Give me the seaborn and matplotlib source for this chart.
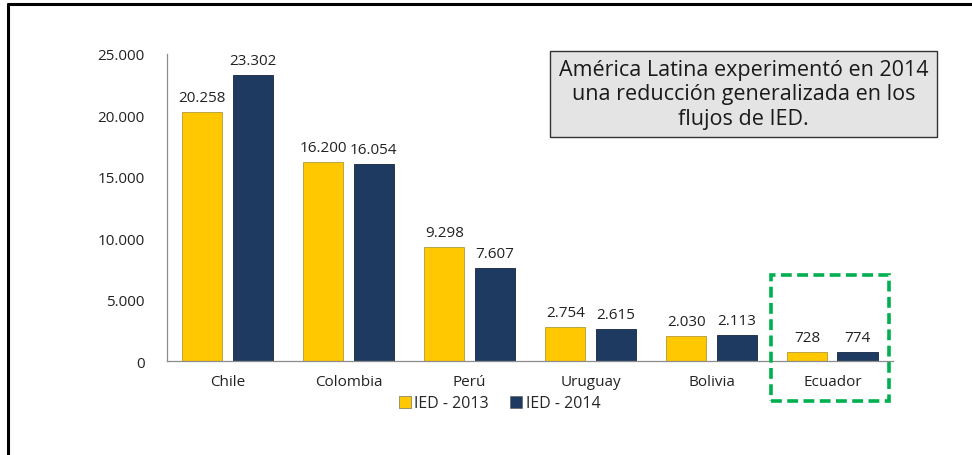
import matplotlib
matplotlib.use("Agg")
import matplotlib.pyplot as plt
from matplotlib.lines import Line2D
from matplotlib.patches import Rectangle
import pandas as pd
import seaborn as sns

paises = ["Chile", "Colombia", "Perú", "Uruguay", "Bolivia", "Ecuador"]
ied_2013 = [20258, 16200, 9298, 2754, 2030, 728]
ied_2014 = [23302, 16054, 7607, 2615, 2113, 774]
series = ["IED - 2013", "IED - 2014"]
yticks = [0, 5000, 10000, 15000, 20000, 25000]
nota = "América Latina experimentó en 2014\nuna reducción generalizada en los\nflujos de IED."

colores = {"IED - 2013": "#FFC800", "IED - 2014": "#1F3A60"}


def miles(v):
    return f"{v:,.0f}".replace(",", ".")


def main():
    df = pd.DataFrame({
        "pais": paises * 2,
        "serie": [series[0]] * len(paises) + [series[1]] * len(paises),
        "valor": ied_2013 + ied_2014,
    })

    sns.set_style("white")
    plt.rcParams["font.family"] = ["Open Sans", "DejaVu Sans"]

    fig = plt.figure(figsize=(9.72, 4.56), dpi=100)
    ax = fig.add_axes([0.1718, 0.2061, 0.7469, 0.6733])

    sns.barplot(data=df, x="pais", y="valor", hue="serie", palette=colores,
                saturation=1, width=0.83, gap=0.2, edgecolor="#b09a3a",
                linewidth=0.6, ax=ax, legend=False)
    for p in ax.containers[1]:
        p.set_edgecolor("#142640")

    # etiquetas de valores
    for cont in ax.containers:
        ax.bar_label(cont, labels=[miles(v) for v in cont.datavalues],
                     padding=5, fontsize=11, color="#222222")

    ax.set_ylim(0, 25000)
    ax.set_yticks(yticks)
    ax.set_yticklabels([miles(v) for v in yticks], fontsize=11, color="#222222")
    ax.tick_params(axis="y", length=0, pad=16)
    ax.tick_params(axis="x", length=0, pad=9, labelsize=11, labelcolor="#222222")
    ax.set_xlabel("")
    ax.set_ylabel("")
    for s in ["top", "right"]:
        ax.spines[s].set_visible(False)
    for s in ["left", "bottom"]:
        ax.spines[s].set_color("#8c8c8c")
        ax.spines[s].set_linewidth(0.9)

    # leyenda
    handles = [Line2D([], [], marker="s", linestyle="", markersize=8,
                      markerfacecolor=colores[s], markeredgecolor="#555555",
                      markeredgewidth=0.4) for s in series]
    fig.legend(handles, series, loc="center", bbox_to_anchor=(0.513, 0.113),
               ncol=2, frameon=False, fontsize=11.5, handletextpad=0.1,
               columnspacing=1.2, handlelength=1.0)

    # recuadro con la nota
    fig.text(0.765, 0.792, nota, ha="center", va="center", fontsize=15.5,
             color="#1a1a1a", linespacing=1.2,
             bbox=dict(boxstyle="square,pad=0.4", facecolor="#e4e4e4",
                       edgecolor="#333333", linewidth=1.0))

    # recuadro verde punteado en Ecuador
    fig.add_artist(Rectangle((771 / 972, 1 - 402 / 456), 118 / 972, 126 / 456,
                             transform=fig.transFigure, fill=False,
                             edgecolor="#00B050", linewidth=2.6,
                             linestyle=(0, (3, 1.5))))

    # marco de la diapositiva
    fig.add_artist(Line2D([8 / 972, 8 / 972], [0, 1 - 5 / 456],
                          transform=fig.transFigure, color="black", linewidth=2.2))
    fig.add_artist(Line2D([8 / 972, 1], [1 - 5 / 456, 1 - 5 / 456],
                          transform=fig.transFigure, color="black", linewidth=2.2))

    fig.savefig("out.png", dpi=100)


if __name__ == '__main__':
    main()
